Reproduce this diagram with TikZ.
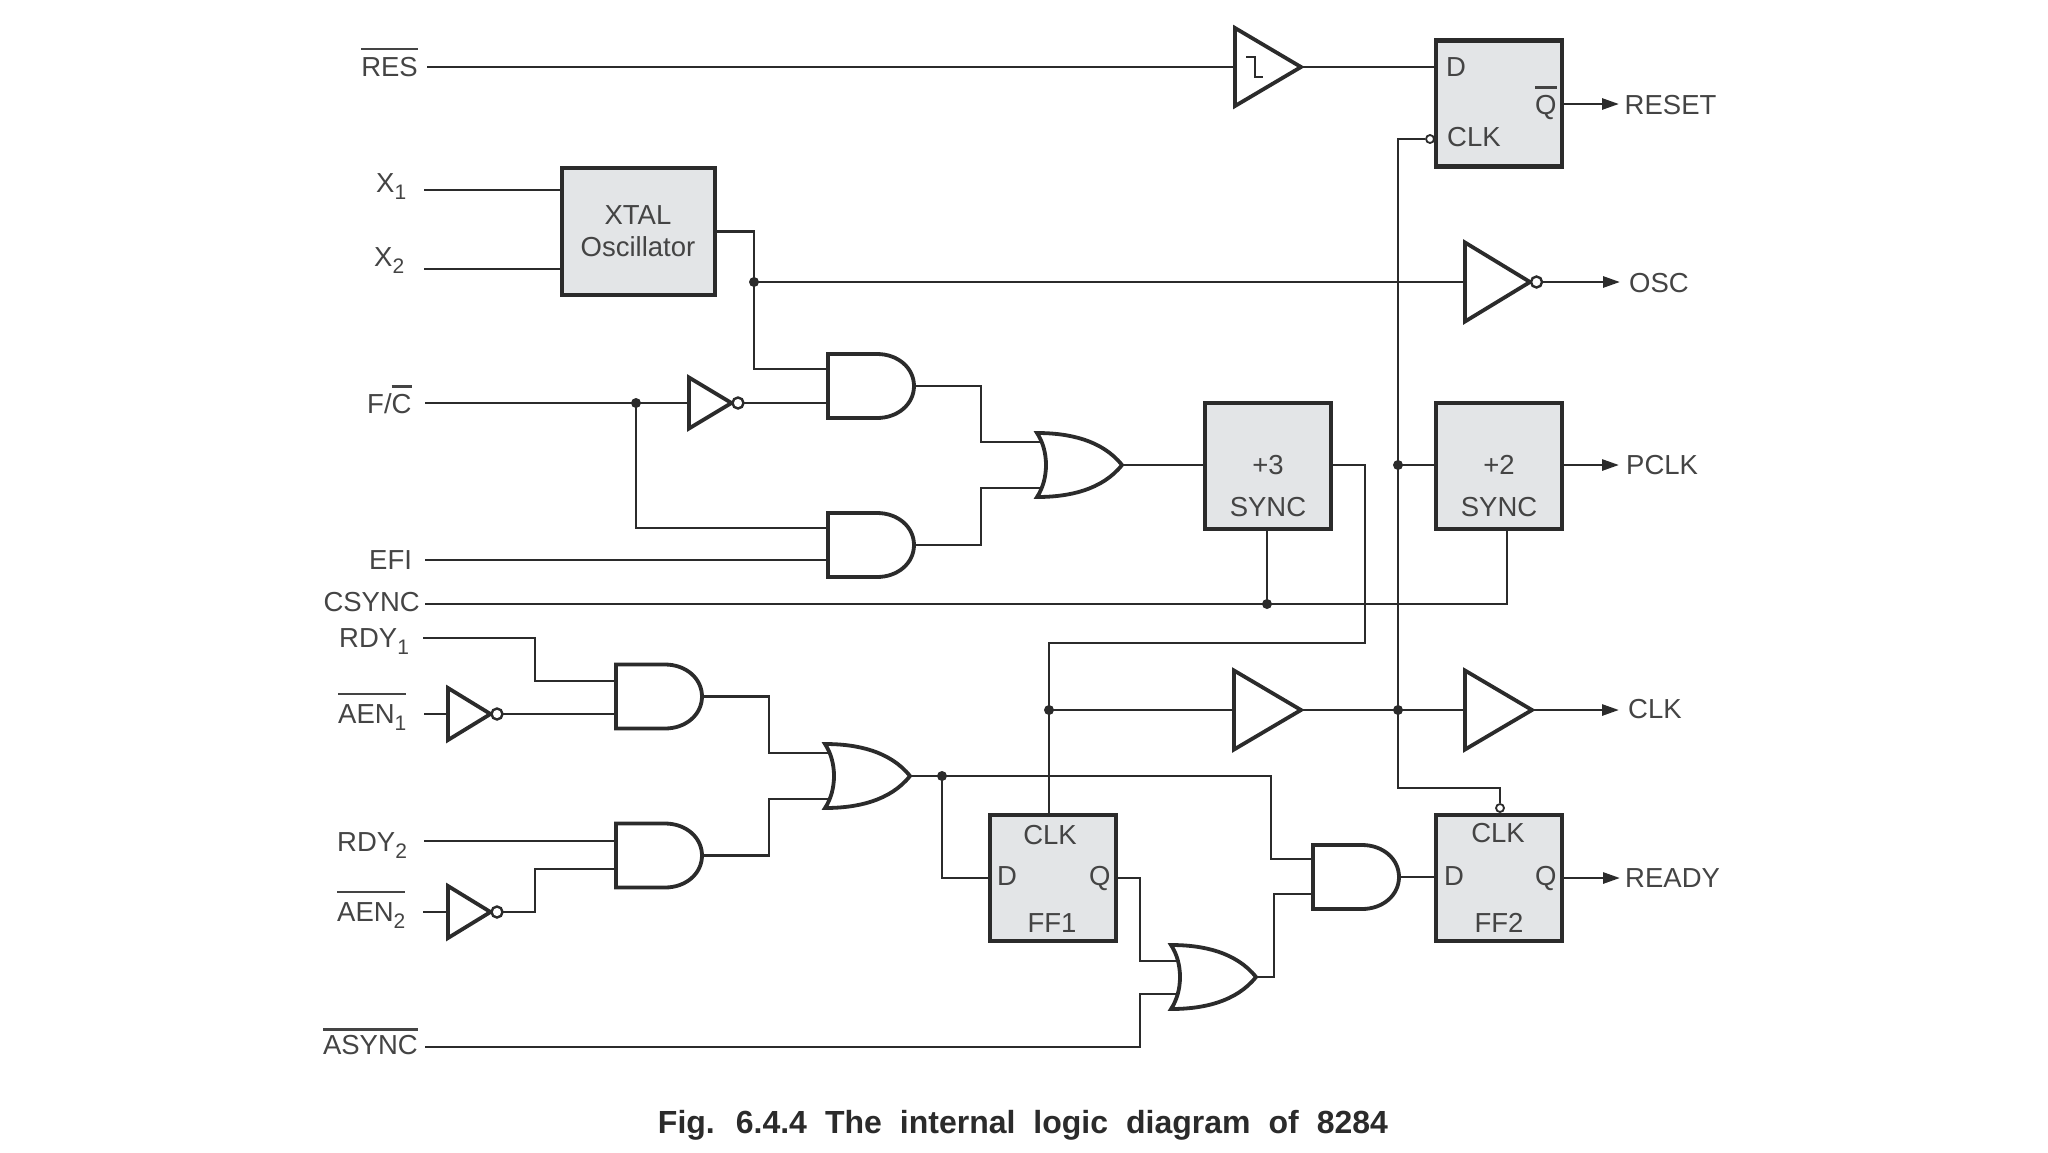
\documentclass[tikz,border=0pt]{standalone}
\usepackage{fontspec}
\setmainfont{Liberation Sans}
\usetikzlibrary{arrows.meta}
\definecolor{ink}{HTML}{2B2B2B}
\definecolor{txt}{HTML}{444444}
\definecolor{boxfill}{HTML}{E3E5E7}
\newcommand\sbsc[1]{\raisebox{-7pt}{\fontsize{21}{21}\selectfont #1}}
\newcommand\mybar[3]{\vbox{\hrule height #1pt\kern #2pt\hbox{#3}}}
\tikzset{
  wire/.style={draw=ink,line width=2.8pt,line join=miter},
  outw/.style={wire,-{Triangle[length=17pt,width=11pt]}},
  gate/.style={draw=ink,line width=3.8pt,fill=white,line join=miter},
  box/.style={draw=ink,line width=4.4pt,fill=boxfill,inner sep=0pt,outer sep=0pt,minimum width=126pt,minimum height=126pt},
  dot/.style={circle,fill=ink,inner sep=0pt,minimum size=10pt},
  bub/.style={circle,draw=ink,line width=2.4pt,fill=white,inner sep=0pt},
  lbl/.style={text=txt,inner sep=0pt,yshift=1pt,font=\fontsize{27.5}{30}\selectfont},
  lw/.style={lbl,anchor=base west},
  le/.style={lbl,anchor=base east},
  lc/.style={lbl,anchor=base},
  pics/andg/.style 2 args={code={
    \draw[gate] (0,-32) -- (49,-32) .. controls (70,-32) and (86,-18) .. (86,0)
      .. controls (86,18) and (70,32) .. (49,32) -- (0,32) -- cycle;
    \coordinate (-i1) at (0,#1);
    \coordinate (-i2) at (0,#2);
    \coordinate (-o) at (86,0);
  }},
  pics/org/.style 2 args={code={
    \draw[gate] (0,-32) .. controls (32,-32) and (65,-25) .. (85,0)
      .. controls (65,25) and (32,32) .. (0,32)
      .. controls (12,14) and (12,-14) .. (0,-32) -- cycle;
    \coordinate (-i1) at (5,#1);
    \coordinate (-i2) at (5,#2);
    \coordinate (-o) at (85,0);
  }},
  pics/bufg/.style 2 args={code={
    \draw[gate] (0,-#2) -- (#1,0) -- (0,#2) -- cycle;
    \coordinate (-i) at (0,0);
    \coordinate (-o) at (#1,0);
  }},
  pics/invg/.style 2 args={code={
    \draw[gate] (0,-#2) -- (#1,0) -- (0,#2) -- cycle;
    \node[bub,minimum size=11pt] (-b) at (#1+6.5,0) {};
    \coordinate (-i) at (0,0);
    \coordinate (-o) at (#1+12,0);
  }},
}
\begin{document}
\begin{tikzpicture}[x=1pt,y=-1pt]
\useasboundingbox (0,0) rectangle (2048,1152);
% ---- free ends
\coordinate (inRES) at (427,67);
\coordinate (inX1) at (424,190);
\coordinate (inX2) at (424,269);
\coordinate (inFC) at (425,403);
\coordinate (inEFI) at (425,560);
\coordinate (inCS) at (425,604);
\coordinate (inR1) at (423,638);
\coordinate (inA1) at (424,714);
\coordinate (inR2) at (424,841);
\coordinate (inA2) at (423,912);
\coordinate (inAS) at (425,1047);
\coordinate (oRESET) at (1619,104);
\coordinate (oOSC) at (1620,282);
\coordinate (oPCLK) at (1619,465);
\coordinate (oCLK) at (1619,710);
\coordinate (oREADY) at (1620,878);
% ---- boxes
\node[box,minimum width=153pt,minimum height=127pt] (xtal) at (638.5,231.5) {};
\node[box] (rst) at (1499,103.5) {};
\node[box] (sync3) at (1268,466) {};
\node[box] (sync2) at (1499,466) {};
\node[box] (ff1) at (1053,878) {};
\node[box] (ff2) at (1499,878) {};
% ---- gates
\pic (sch) at (1235,67) {bufg={66}{39}};
\draw[draw=ink,line width=2.2pt] (1246,57) -- (1255,57) -- (1255,77) -- (1263,77);
\pic (iosc) at (1465,282) {invg={65}{39.5}};
\pic (ifc) at (689,403) {invg={42.5}{25.5}};
\pic (a1) at (828,386) {andg={-17}{17}};
\pic (a2) at (828,545) {andg={-17}{15}};
\pic (o1) at (1037,465) {org={-23}{23}};
\pic (i1) at (448,714) {invg={42.5}{26}};
\pic (i2) at (448,912) {invg={42.5}{26}};
\pic (a3) at (616,696.5) {andg={-15.5}{17.5}};
\pic (a4) at (616,855.5) {andg={-14.5}{13.5}};
\pic (o2) at (825,776) {org={-23}{23}};
\pic (b1) at (1234,710) {bufg={67}{39.5}};
\pic (b2) at (1465,710) {bufg={67}{39.5}};
\pic (o3) at (1171,977) {org={-16}{17}};
\pic (a5) at (1313,877) {andg={-18}{17}};
% ---- junctions and clock bubbles
\node[dot] (dosc) at (754,282) {};
\node[dot] (dfc) at (636,403) {};
\node[dot] (dpclk) at (1398,465) {};
\node[dot] (dcs) at (1267,604) {};
\node[dot] (dclka) at (1049,710) {};
\node[dot] (dclkb) at (1398,710) {};
\node[dot] (drdy) at (942,776) {};
\node[bub,minimum size=8pt,line width=1.8pt] (brst) at (1430,139) {};
\node[bub,minimum size=8pt,line width=1.8pt] (bff2) at (1500,808) {};
% ---- wires
\coordinate (ffclk) at (1049,813);
\draw[wire] (inRES) -- (sch-i);
\draw[wire] (sch-o) -- (rst.west |- sch-o);
\draw[wire] (inX1) -- (xtal.west |- inX1);
\draw[wire] (inX2) -- (xtal.west |- inX2);
\draw[wire] (xtal.east) -- (dosc.center |- xtal.east) -- (dosc.center) |- (a1-i1);
\draw[wire] (dosc.center) -- (iosc-i);
\draw[wire] (inFC) -- (ifc-i);
\draw[wire] (ifc-o) -- (a1-i2);
\draw[wire] (dfc.center) |- (a2-i1);
\draw[wire] (inEFI) -- (a2-i2);
\coordinate (b981) at (981,442);
\draw[wire] (a1-o) -| (b981) |- (o1-i1);
\draw[wire] (a2-o) -| (b981 |- o1-i2) -- (o1-i2);
\draw[wire] (o1-o) -- (sync3.west |- o1-o);
\coordinate (b1365) at (1365,643);
\draw[wire] (sync3.east |- o1-o) -| (b1365) -- (b1365 -| ffclk) -- (ffclk);
\draw[wire] (inCS) -| (1507,530);
\draw[wire] (dcs.center) -- (dcs.center |- sync3.south);
\draw[wire] (dclkb.center) |- (brst.west);
\draw[wire] (dpclk.center) -- (sync2.west |- dpclk);
\draw[wire] (dclka.center) -- (b1-i);
\draw[wire] (b1-o) -- (b2-i);
\coordinate (bclk) at (1398,788);
\draw[wire] (dclkb.center) -- (bclk) -| (bff2.north);
\draw[wire] (inR1) -| (535,681) -- (a3-i1);
\draw[wire] (inA1) -- (i1-i);
\draw[wire] (i1-o) -- (a3-i2);
\draw[wire] (inR2) -- (a4-i1);
\draw[wire] (inA2) -- (i2-i);
\draw[wire] (i2-o) -| (535,869) -- (a4-i2);
\coordinate (b769) at (769,753);
\draw[wire] (a3-o) -| (b769) -- (o2-i1);
\draw[wire] (a4-o) -| (b769 |- o2-i2) -- (o2-i2);
\coordinate (b1271) at (1271,859);
\draw[wire] (o2-o) -| (b1271) -- (a5-i1);
\draw[wire] (drdy.center) |- (ff1.west);
\coordinate (b1140) at (1140,961);
\draw[wire] (ff1.east) -| (b1140) -- (o3-i1);
\draw[wire] (inAS) -| (b1140 |- o3-i2) -- (o3-i2);
\coordinate (b1274) at (1274,894);
\draw[wire] (o3-o) -| (b1274) -- (a5-i2);
\draw[wire] (a5-o) -- (ff2.west |- a5-o);
\draw[outw] (rst.east |- oRESET) -- (oRESET);
\draw[outw] (iosc-o) -- (oOSC);
\draw[outw] (sync2.east |- oPCLK) -- (oPCLK);
\draw[outw] (b2-o) -- (oCLK);
\draw[outw] (ff2.east |- oREADY) -- (oREADY);
% ---- input labels
\node[le] (tRES) at (418,77) {\mybar{2.6}{6.5}{RES}};
\node[lw] (tX1) at (376,193) {X\sbsc{1}};
\node[lw] (tX2) at (374,267) {X\sbsc{2}};
\node[lw] (tFC) at (367,414) {F/\mybar{2.6}{6}{C}};
\node[lw] (tEFI) at (369,570) {EFI};
\node[le] (tCS) at (420,612) {CSYNC};
\node[lw] (tR1) at (339,648) {RDY\sbsc{1}};
\node[lw] (tA1) at (338,724) {\mybar{1.6}{9.5}{AEN\sbsc{1}}};
\node[lw] (tR2) at (337,852) {RDY\sbsc{2}};
\node[lw] (tA2) at (337,922) {\mybar{1.6}{9.5}{AEN\sbsc{2}}};
\node[le] (tAS) at (418,1055) {\mybar{2.6}{4}{ASYNC}};
% ---- output labels
\node[lw] (tRESET) at (1624.5,115) {RESET};
\node[lw] (tOSC) at (1629,293) {OSC};
\node[lw] (tPCLK) at (1626,475) {PCLK};
\node[lw] (tCLK) at (1628,719) {CLK};
\node[lw] (tREADY) at (1625,888) {READY};
% ---- box texts
\node[lc] (xa) at (638,225) {XTAL};
\node[lc] (xb) at (638,257) {Oscillator};
\node[lw] (rd) at (1446,77) {D};
\node[lw] (rq) at (1535,115) {\mybar{2.6}{6}{Q}};
\node[lw] (rc) at (1447,147) {CLK};
\node[lc] (s3a) at (1268,475) {+3};
\node[lc] (s3b) at (1268,517) {SYNC};
\node[lc] (s2a) at (1499,475) {+2};
\node[lc] (s2b) at (1499,517) {SYNC};
\node[lc] (f1c) at (1050,845) {CLK};
\node[lw] (f1d) at (997,886) {D};
\node[lw] (f1q) at (1089,886) {Q};
\node[lc] (f1n) at (1052,933) {FF1};
\node[lc] (f2c) at (1498,843) {CLK};
\node[lw] (f2d) at (1444,886) {D};
\node[lw] (f2q) at (1535,886) {Q};
\node[lc] (f2n) at (1499,933) {FF2};
% ---- caption
\node[anchor=base,inner sep=0pt,text=ink,font=\fontsize{32}{36}\selectfont\bfseries] (cap) at (1023,1133) {\spaceskip=18pt\relax Fig. 6.4.4 The internal logic diagram of 8284};
\end{tikzpicture}
\end{document}
